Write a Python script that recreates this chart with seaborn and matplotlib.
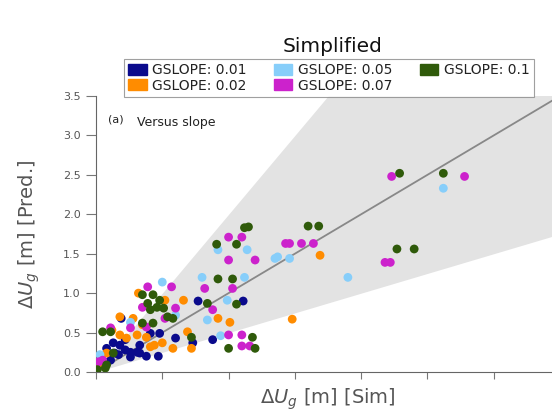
import numpy as np
import pandas as pd
import matplotlib
matplotlib.use("Agg")
import matplotlib.pyplot as plt
import seaborn as sns
from matplotlib.patches import Patch

sns.set_style("ticks")
plt.rcParams['font.family'] = ['DejaVu Sans']

# ---- data ----
sim_001 = [0.19, 0.77, 1.11, 0.88, 0.41, 0.48, 0.60, 0.73, 0.13, 0.18, 0.08, 0.22, 0.26, 0.31, 0.33,
           0.38, 0.47, 0.26, 0.11, 0.14, 0.06, 0.22, 0.33, 0.17]
pred_001 = [0.68, 0.90, 0.90, 0.41, 0.49, 0.49, 0.43, 0.37, 0.37, 0.34, 0.30, 0.28, 0.25, 0.25, 0.24,
            0.20, 0.20, 0.19, 0.15, 0.24, 0.13, 0.41, 0.34, 0.22]

sim_002 = [0.32, 0.52, 0.66, 0.18, 0.28, 0.31, 0.38, 0.69, 0.92, 1.01, 0.72, 0.58, 0.50, 0.41, 0.18,
           0.23, 0.08, 1.69, 1.48, 0.44, 0.12, 0.35, 0.03]
pred_002 = [1.00, 0.91, 0.91, 0.70, 0.68, 0.47, 0.44, 0.51, 0.68, 0.63, 0.30, 0.30, 0.37, 0.32, 0.47,
            0.43, 0.24, 1.48, 0.67, 0.34, 0.53, 0.60, 0.09]

sim_005 = [0.50, 0.92, 1.14, 1.35, 0.80, 1.12, 0.99, 0.84, 1.37, 1.46, 1.90, 2.62, 0.03, 0.26, 0.60, 0.94]
pred_005 = [1.14, 1.55, 1.55, 1.44, 1.20, 1.20, 0.91, 0.66, 1.46, 1.44, 1.20, 2.33, 0.22, 0.63, 0.72, 0.46]

sim_007 = [1.00, 1.10, 1.00, 1.20, 0.82, 1.03, 0.88, 0.39, 0.57, 0.35, 0.60, 0.26, 0.38, 0.11, 1.00,
           1.10, 1.10, 1.16, 0.02, 0.05, 2.23, 2.78, 1.43, 1.46, 1.55, 1.64, 2.18, 2.22, 0.52]
pred_007 = [1.71, 1.71, 1.42, 1.42, 1.06, 1.06, 0.79, 1.08, 1.08, 0.82, 0.81, 0.56, 0.57, 0.56, 0.47,
            0.47, 0.33, 0.33, 0.13, 0.15, 2.48, 2.48, 1.63, 1.63, 1.63, 1.63, 1.39, 1.39, 0.68]

sim_01 = [1.12, 1.15, 0.91, 1.06, 0.92, 1.03, 0.84, 1.06, 0.05, 0.11, 0.35, 0.43, 0.39, 0.46, 0.51,
          0.54, 0.58, 0.43, 0.35, 0.72, 0.01, 0.07, 0.08, 0.13, 1.00, 1.18, 1.20, 1.60, 1.68, 2.29,
          2.62, 2.27, 2.40, 0.41, 0.48]
pred_01 = [1.83, 1.84, 1.62, 1.62, 1.18, 1.18, 0.87, 0.86, 0.51, 0.51, 0.98, 0.98, 0.87, 0.82, 0.81,
           0.70, 0.68, 0.62, 0.62, 0.44, 0.03, 0.05, 0.09, 0.24, 0.30, 0.44, 0.30, 1.85, 1.85, 2.52,
           2.52, 1.56, 1.56, 0.79, 0.91]

slope_labels = ["GSLOPE: 0.01", "GSLOPE: 0.02", "GSLOPE: 0.05", "GSLOPE: 0.07", "GSLOPE: 0.1"]
slope_colors = ["#0a0a8c", "#ff8c00", "#87cefa", "#cc22cc", "#2f5a0a"]
y_ticks = [0.0, 0.5, 1.0, 1.5, 2.0, 2.5, 3.0, 3.5]
x_ticks = [0.0, 0.5, 1.0, 1.5, 2.0, 2.5, 3.0, 3.5]

groups = [(sim_001, pred_001), (sim_002, pred_002), (sim_005, pred_005),
          (sim_007, pred_007), (sim_01, pred_01)]
rows = []
for lab, (xs, ys) in zip(slope_labels, groups):
    for a, b in zip(xs, ys):
        rows.append({"sim": a, "pred": b, "slope": lab})
df = pd.DataFrame(rows)

fig = plt.figure(figsize=(5.52, 4.12), dpi=100)
ax = fig.add_axes([96/552, 40/412, (560-96)/552, (372-96)/412])

xx = np.linspace(0, 3.5, 50)
ax.fill_between(xx, 0.5*xx, np.minimum(2*xx, 3.6), color="#dcdcdc", alpha=0.8, lw=0, zorder=0)
ax.plot(xx, xx, color="#888888", lw=1.3, zorder=1)

palette = dict(zip(slope_labels, slope_colors))
sns.scatterplot(data=df, x="sim", y="pred", hue="slope", hue_order=slope_labels,
                palette=palette, s=40, linewidth=0, ax=ax, legend=False, zorder=3)

ax.set_xlim(0, 3.5)
ax.set_ylim(0, 3.5)
ax.set_yticks(y_ticks)
ax.set_yticklabels([f"{t:.1f}" for t in y_ticks], fontsize=8, color="#555555")
ax.set_xticks(x_ticks)
ax.set_xticklabels([])
ax.tick_params(axis="y", length=7, width=0.8, color="#777777", pad=4)
ax.tick_params(axis="x", length=5, width=0.8, color="#777777")
sns.despine(ax=ax)
for sp in ["left", "bottom"]:
    ax.spines[sp].set_color("#666666")
    ax.spines[sp].set_linewidth(0.8)

ax.set_xlabel(r"$\Delta U_g$ [m] [Sim]", fontsize=14, color="#555555", labelpad=2)
ax.set_ylabel(r"$\Delta U_g$ [m] [Pred.]", fontsize=14, color="#555555")
ax.yaxis.set_label_coords(-(96-42)/464, 0.5)

ax.text(0.09, 3.2, "(a)", fontsize=8, color="#222222", va="center")
ax.text(0.31, 3.16, "Versus slope", fontsize=9, color="#222222", va="center")

fig.text(333/552, 1 - 47/412, "Simplified", fontsize=14.5, ha="center", va="center", color="#111111")

handles = [Patch(facecolor=c, edgecolor=c) for c in slope_colors]
leg = fig.legend(handles, slope_labels, ncol=3, loc="upper center",
                 bbox_to_anchor=(329/552, 1 - 52/412), fontsize=10, frameon=True,
                 handlelength=1.3, handleheight=0.9, handletextpad=0.4, columnspacing=2.0,
                 labelspacing=0.1, borderpad=0.3, fancybox=False, edgecolor="#888888")
leg.get_frame().set_linewidth(0.8)
for t in leg.get_texts():
    t.set_color("#222222")

fig.savefig("out.png", dpi=100)
